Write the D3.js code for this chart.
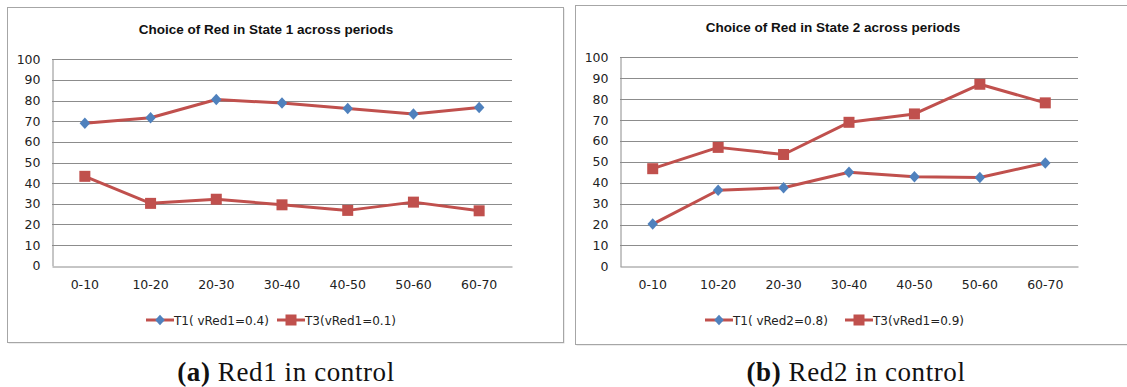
<!DOCTYPE html>
<meta charset="utf-8">
<style>
  body { margin: 0; background: #fff; }
  .grid line { stroke: #8c8c8c; stroke-width: 1; }
  .axis text { font-family: "DejaVu Sans", sans-serif; font-size: 12.5px; fill: #222; }
  .title { font-family: "Liberation Sans", sans-serif; font-weight: bold; font-size: 13.5px; fill: #111; }
  .legend text { font-family: "DejaVu Sans", sans-serif; font-size: 12px; fill: #222; }
  .caption { font-family: "Liberation Serif", serif; font-size: 27px; fill: #111; letter-spacing: 0.6px; }
</style>
<svg width="1127" height="387"></svg>
<script src="https://d3js.org/d3.v7.min.js"></script>
<script>
var svg = d3.select("svg");

var periods = ["0-10", "10-20", "20-30", "30-40", "40-50", "50-60", "60-70"];
var yTicks = [0, 10, 20, 30, 40, 50, 60, 70, 80, 90, 100];

// panel (a) Red1 in control
var redA_T1 = [69, 71.7, 80.5, 78.8, 76.2, 73.5, 76.6];
var redA_T3 = [43.3, 30.2, 32.2, 29.5, 26.8, 30.8, 26.6];
// panel (b) Red2 in control
var redB_T1 = [20.2, 36.4, 37.6, 45, 42.8, 42.5, 49.4];
var redB_T3 = [46.7, 56.9, 53.5, 68.9, 72.9, 87.1, 78.2];

var panels = [
  {box: [7, 7, 556, 335], plot: [52, 59.3, 512, 265.7], title: "Choice of Red in State 1 across periods",
   t1: redA_T1, t3: redA_T3, leg1: "T1( vRed1=0.4)", leg3: "T3(vRed1=0.1)", legX: [146, 277], titleX: 266, titleY: 34,
   capLabel: "(a)", capText: " Red1 in control", capX: 286},
  {box: [575, 5, 560, 339], plot: [620, 57.3, 1078, 266.3], title: "Choice of Red in State 2 across periods",
   t1: redB_T1, t3: redB_T3, leg1: "T1( vRed2=0.8)", leg3: "T3(vRed1=0.9)", legX: [705, 845], titleX: 833, titleY: 32,
   capLabel: "(b)", capText: " Red2 in control", capX: 856}
];

var lineColor = "#c0504d", diamondColor = "#4f81bd";

panels.forEach(function(p) {
  var g = svg.append("g");
  // frame
  g.append("rect").attr("x", p.box[0] + 1.5).attr("y", p.box[1] + 1.5)
    .attr("width", p.box[2]).attr("height", p.box[3]).attr("fill", "#d9d9d9");
  g.append("rect").attr("x", p.box[0] + 0.5).attr("y", p.box[1] + 0.5)
    .attr("width", p.box[2]).attr("height", p.box[3]).attr("fill", "#fff").attr("stroke", "#a6a6a6");

  var x = d3.scaleBand().domain(periods).range([p.plot[0], p.plot[2]]);
  var y = d3.scaleLinear().domain([0, 100]).range([p.plot[3], p.plot[1]]);

  g.append("text").attr("class", "title").attr("x", p.titleX).attr("y", p.titleY)
    .attr("text-anchor", "middle").text(p.title);

  // gridlines
  g.append("g").attr("class", "grid").selectAll("line").data(yTicks.slice(1)).enter().append("line")
    .attr("x1", p.plot[0]).attr("x2", p.plot[2])
    .attr("y1", d => Math.round(y(d)) + 0.5).attr("y2", d => Math.round(y(d)) + 0.5);

  var yAxis = g.append("g").attr("class", "axis")
    .attr("transform", "translate(" + (Math.round(p.plot[0]) + 0.5) + ",0)")
    .call(d3.axisLeft(y).tickValues(yTicks).tickSize(0).tickPadding(12));
  yAxis.select(".domain").attr("stroke", "#8c8c8c");

  var xAxis = g.append("g").attr("class", "axis")
    .attr("transform", "translate(0," + (Math.round(p.plot[3]) + 0.5) + ")")
    .call(d3.axisBottom(x).tickSize(0).tickPadding(14));
  xAxis.select(".domain").attr("stroke", "#8c8c8c");

  var line = d3.line().x((d, i) => x(periods[i]) + x.bandwidth() / 2).y(d => y(d));

  [p.t1, p.t3].forEach(function(s) {
    g.append("path").datum(s).attr("d", line).attr("fill", "none")
      .attr("stroke", lineColor).attr("stroke-width", 3).attr("stroke-linejoin", "round");
  });

  g.selectAll(".dia").data(p.t1).enter().append("path")
    .attr("d", d3.symbol(d3.symbolDiamond2, 70))
    .attr("transform", (d, i) => "translate(" + (x(periods[i]) + x.bandwidth() / 2) + "," + y(d) + ") scale(1,1.1)")
    .attr("fill", diamondColor);
  g.selectAll(".sq").data(p.t3).enter().append("rect")
    .attr("x", (d, i) => x(periods[i]) + x.bandwidth() / 2 - 5.5).attr("y", d => y(d) - 5.5)
    .attr("width", 11).attr("height", 11).attr("fill", lineColor);

  // legend
  var ly = 320;
  var lg = g.append("g").attr("class", "legend");
  [[p.leg1, "d"], [p.leg3, "s"]].forEach(function(item, k) {
    var lx = p.legX[k];
    lg.append("line").attr("x1", lx).attr("x2", lx + 28).attr("y1", ly).attr("y2", ly)
      .attr("stroke", lineColor).attr("stroke-width", 3);
    if (item[1] === "d") {
      lg.append("path").attr("d", d3.symbol(d3.symbolDiamond2, 60))
        .attr("transform", "translate(" + (lx + 14) + "," + ly + ") scale(1,1.1)").attr("fill", diamondColor);
    } else {
      lg.append("rect").attr("x", lx + 8.5).attr("y", ly - 5.5).attr("width", 11).attr("height", 11).attr("fill", lineColor);
    }
    lg.append("text").attr("x", lx + 28).attr("y", ly + 4.5).text(item[0]);
  });

  var cap = svg.append("text").attr("class", "caption").attr("x", p.capX).attr("y", 381).attr("text-anchor", "middle");
  cap.append("tspan").attr("font-weight", "bold").text(p.capLabel);
  cap.append("tspan").text(p.capText);
});
</script>
